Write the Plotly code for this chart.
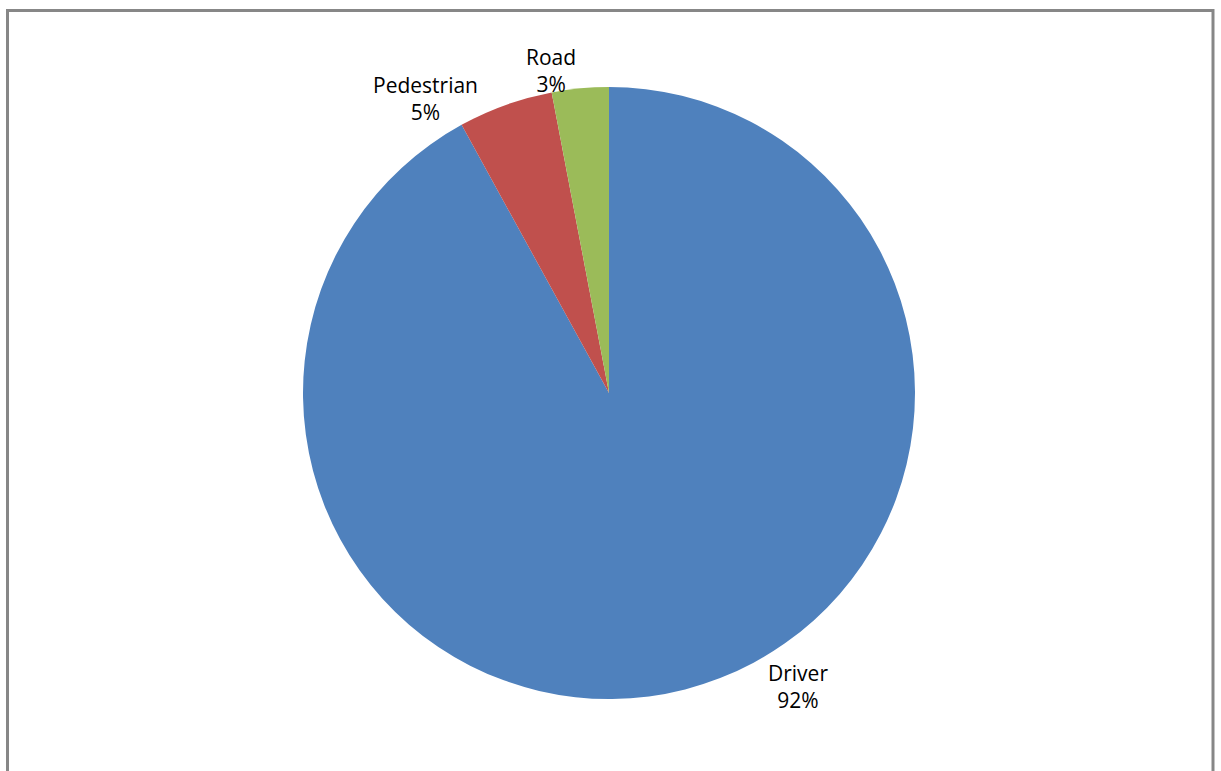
import plotly.graph_objects as go

W, H = 1221, 771

labels = ["Driver", "Pedestrian", "Road"]
values = [92, 5, 3]
colors = ["#4F81BD", "#C0504D", "#9BBB59"]

# label anchor positions in pixels (centre of the two-line label)
label_px = [(798, 686), (425, 99), (551, 70)]

fig = go.Figure(go.Pie(
    labels=labels,
    values=values,
    sort=False,
    direction="clockwise",
    rotation=0,
    marker=dict(colors=colors, line=dict(width=0)),
    textinfo="none",
    hoverinfo="label+percent",
    showlegend=False,
    domain=dict(x=[303 / W, 915 / W], y=[1 - 699 / H, 1 - 87 / H]),
))

total = sum(values)
for lab, val, (px, py) in zip(labels, values, label_px):
    fig.add_annotation(
        x=px / W, y=1 - py / H, xref="paper", yref="paper",
        text=f"{lab}<br>{round(100 * val / total)}%",
        showarrow=False, xanchor="center", yanchor="middle",
        font=dict(family="Open Sans, Noto Sans, sans-serif", size=21, color="#000000"),
    )

fig.add_shape(type="rect", xref="paper", yref="paper",
              x0=7.5 / W, x1=1213 / W, y0=-0.05, y1=1 - 10.5 / H,
              line=dict(color="#878787", width=3), fillcolor="rgba(0,0,0,0)")

fig.update_layout(
    width=W, height=H,
    margin=dict(l=0, r=0, t=0, b=0),
    paper_bgcolor="white", plot_bgcolor="white",
)

fig.write_html("out.html")
